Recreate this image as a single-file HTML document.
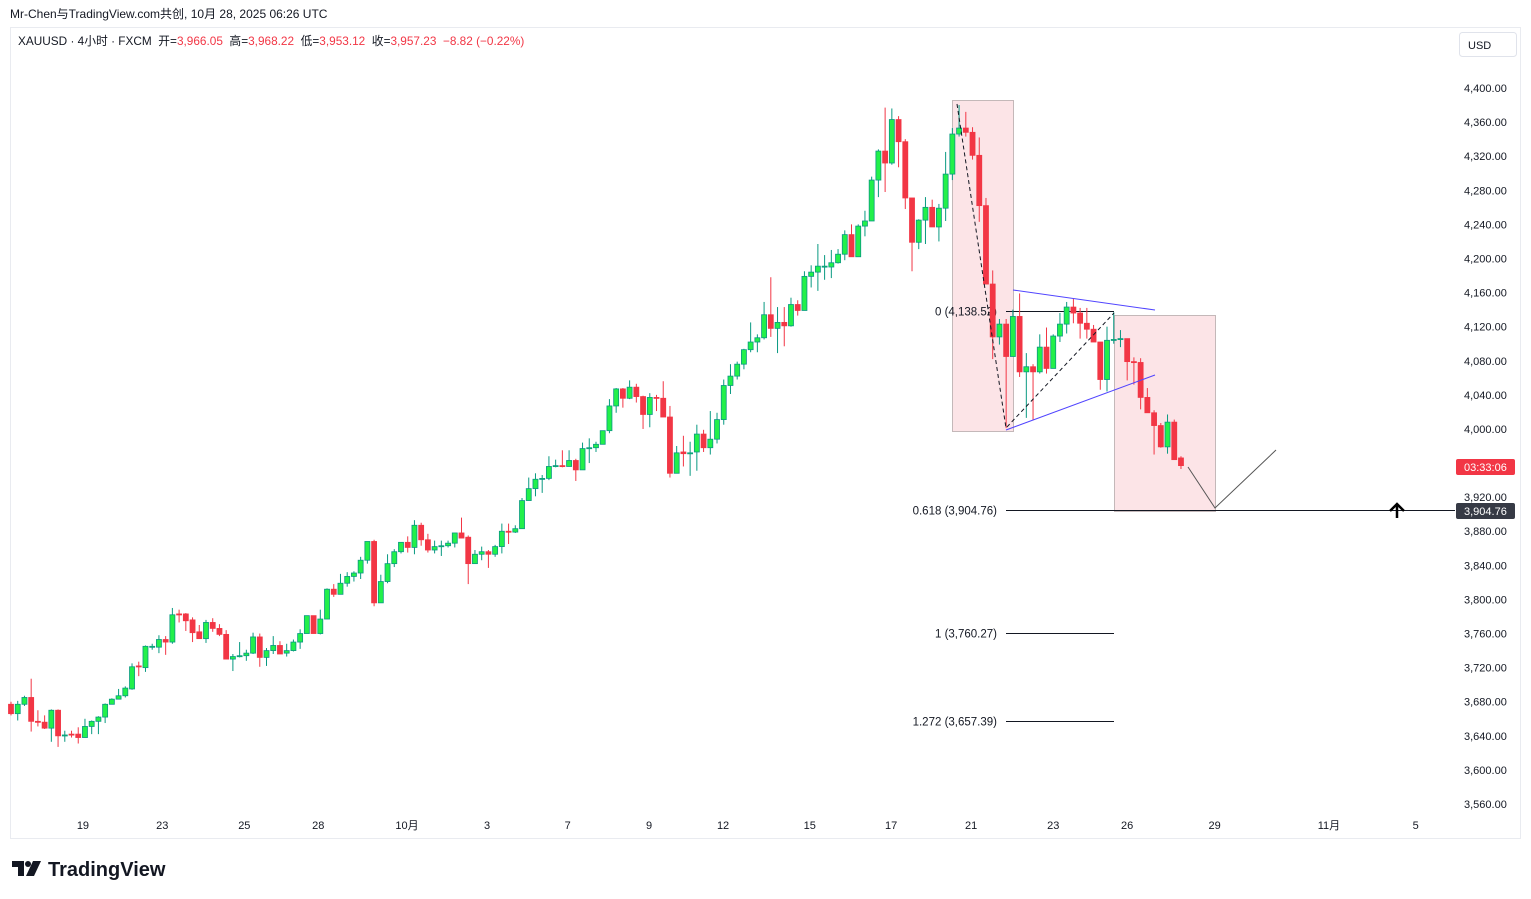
<!DOCTYPE html>
<html><head><meta charset="utf-8">
<style>
body{margin:0;background:#fff;width:1531px;height:899px;overflow:hidden;font-family:"Liberation Sans","Noto Sans CJK SC",sans-serif;}
svg{position:absolute;left:0;top:0}
</style></head>
<body>
<svg id="chart" width="1531" height="899" xmlns="http://www.w3.org/2000/svg"></svg>
<script>
const opens=[3677,3666,3677,3685,3657,3656,3649,3670,3641,3642,3642,3638,3651,3657,3662,3677,3683,3687,3695,3722,3720,3745,3744,3753,3750,3783,3783,3776,3762,3754,3773,3766,3759,3730,3734,3734,3737,3756,3732,3740,3746,3737,3740,3750,3760,3781,3760,3777,3812,3806,3819,3827,3831,3846,3868,3796,3821,3842,3856,3867,3861,3887,3870,3858,3863,3863,3866,3878,3873,3842,3853,3856,3853,3862,3880,3879,3883,3916,3930,3942,3942,3957,3957,3956,3963,3952,3978,3978,3982,3998,4027,4047,4036,4049,4038,4017,4037,4036,4014,3948,3973,3972,3973,3994,3978,3988,4011,4051,4062,4076,4093,4102,4107,4134,4118,4125,4121,4146,4139,4179,4184,4191,4190,4195,4205,4228,4202,4238,4244,4292,4326,4312,4363,4337,4271,4219,4245,4260,4237,4259,4299,4346,4353,4348,4321,4262,4170,4108,4123,4085,4132,4067,4073,4067,4096,4071,4109,4123,4143,4136,4124,4117,4102,4058,4104,4105,4106,4079,4078,4037,4019,4004,3979,4008,3966];
const highs=[3680,3681,3687,3707,3670,3664,3671,3671,3646,3646,3650,3660,3658,3663,3678,3684,3695,3698,3725,3727,3746,3748,3758,3757,3790,3788,3784,3779,3770,3776,3778,3771,3764,3736,3750,3741,3761,3760,3743,3757,3751,3748,3753,3765,3781,3781,3788,3813,3818,3830,3832,3833,3850,3868,3870,3829,3853,3859,3867,3874,3893,3890,3877,3869,3869,3869,3878,3896,3875,3858,3862,3858,3864,3889,3889,3887,3919,3943,3948,3946,3968,3964,3975,3975,3965,3984,3989,3985,3998,4035,4048,4048,4057,4053,4039,4042,4040,4056,4027,3980,3992,3985,4005,3999,4021,4019,4058,4076,4079,4094,4125,4111,4149,4178,4143,4143,4154,4151,4185,4192,4217,4204,4210,4211,4233,4240,4240,4256,4296,4328,4377,4376,4367,4340,4271,4246,4272,4269,4264,4325,4353,4380,4372,4354,4342,4271,4186,4129,4129,4140,4159,4089,4076,4111,4119,4111,4136,4149,4153,4142,4142,4122,4102,4120,4137,4116,4106,4084,4083,4048,4022,4007,4017,4011,3968];
const lows=[3664,3658,3675,3645,3651,3648,3633,3627,3633,3638,3631,3638,3642,3642,3655,3677,3683,3685,3694,3710,3715,3741,3737,3735,3748,3773,3763,3750,3754,3749,3762,3757,3730,3716,3732,3728,3736,3721,3722,3736,3736,3733,3739,3742,3760,3760,3759,3777,3803,3806,3815,3821,3824,3842,3792,3796,3819,3838,3854,3855,3853,3863,3855,3854,3851,3861,3861,3872,3818,3842,3846,3837,3850,3854,3865,3878,3883,3916,3921,3925,3940,3955,3955,3956,3939,3952,3960,3973,3982,3995,4019,4025,4035,4031,4000,4002,4021,4014,3943,3948,3956,3945,3951,3973,3970,3983,4005,4041,4058,4070,4090,4090,4105,4108,4089,4097,4120,4133,4139,4166,4162,4175,4177,4194,4198,4202,4202,4226,4244,4272,4278,4310,4307,4258,4185,4211,4217,4237,4220,4244,4292,4343,4343,4316,4243,4170,4082,4099,4001,4085,4061,4013,4010,4065,4065,4071,4102,4112,4124,4106,4106,4102,4046,4044,4100,4096,4057,4052,4023,4019,3970,3978,3971,3964,3953];
const closes=[3666,3677,3685,3657,3656,3649,3670,3640,3641,3641,3638,3651,3657,3662,3677,3683,3687,3696,3721,3721,3745,3745,3753,3750,3782,3782,3775,3761,3754,3773,3766,3759,3730,3733,3734,3737,3756,3732,3740,3746,3736,3740,3750,3760,3781,3760,3777,3812,3806,3819,3827,3831,3846,3868,3796,3821,3842,3856,3867,3861,3887,3870,3858,3862,3863,3866,3878,3872,3842,3853,3856,3853,3862,3880,3879,3883,3916,3930,3941,3942,3956,3957,3956,3963,3952,3977,3978,3982,3998,4027,4047,4036,4049,4038,4017,4037,4036,4014,3948,3972,3971,3972,3994,3978,3988,4011,4051,4062,4076,4093,4102,4107,4134,4118,4125,4121,4146,4139,4179,4184,4191,4191,4195,4205,4228,4202,4238,4244,4292,4326,4312,4363,4337,4271,4219,4245,4260,4237,4259,4299,4346,4353,4348,4321,4262,4170,4108,4123,4085,4132,4067,4073,4067,4096,4071,4109,4123,4143,4136,4124,4117,4102,4058,4104,4105,4106,4079,4078,4037,4019,4004,3979,4008,3964,3957];
const priceTicks=[4400,4360,4320,4280,4240,4200,4160,4120,4080,4040,4000,3920,3880,3840,3800,3760,3720,3680,3640,3600,3560];
const dateLabels=["19","23","25","28","10月","3","7","9","12","15","17","21","23","26","29","11月","5"];
const dateIdx=[10.7,22.5,34.7,45.7,58.9,70.8,82.8,94.9,105.9,118.8,130.9,142.8,155,166,179,196,208.9];
const fibLevels=[4138.52,3904.76,3760.27,3657.39];
const fibNames=["0","0.618","1","1.272"];

const NS="http://www.w3.org/2000/svg";
const svg=document.getElementById('chart');
const X0=11, DX=6.724;
function xs(i){return X0+i*DX;}
function ys(p){return 88+(4400-p)*0.8524;}
function mk(tag,attrs,parent){const e=document.createElementNS(NS,tag);for(const k in attrs)e.setAttribute(k,attrs[k]);(parent||svg).appendChild(e);return e;}
function fmt(v){return v.toLocaleString('en-US',{minimumFractionDigits:2,maximumFractionDigits:2});}

let t=mk('text',{x:10,y:18,'font-size':12,fill:'#131722'});t.textContent='Mr-Chen与TradingView.com共创, 10月 28, 2025 06:26 UTC';

let fr=mk('rect',{x:10.5,y:27.5,width:1510,height:811,fill:'none',stroke:'#e9ebf0'});

let lg=mk('text',{x:18,y:45,'font-size':11.8,fill:'#131722'});

lg.innerHTML='XAUUSD · 4小时 · FXCM  开=<tspan fill="#f23645">3,966.05</tspan>  高=<tspan fill="#f23645">3,968.22</tspan>  低=<tspan fill="#f23645">3,953.12</tspan>  收=<tspan fill="#f23645">3,957.23</tspan>  <tspan fill="#f23645">−8.82 (−0.22%)</tspan>';
lg.setAttribute('xml:space','preserve');lg.style.whiteSpace='pre';
let usd=mk('rect',{x:1459.5,y:32.5,width:57,height:24,rx:3,fill:'#fff',stroke:'#e0e3eb'});

t=mk('text',{x:1468,y:49,'font-size':11,fill:'#131722'});t.textContent='USD';

priceTicks.forEach(p=>{const e=mk('text',{x:1464,y:ys(p)+4,'font-size':11,fill:'#131722'});e.textContent=fmt(p);
});
dateLabels.forEach((d,k)=>{const e=mk('text',{x:xs(dateIdx[k]),y:829,'font-size':11,fill:'#131722','text-anchor':'middle'});e.textContent=d;
});

let b1=mk('rect',{x:952.5,y:100.5,width:61,height:331,fill:'#fce4e7',stroke:'#c4b8b9'});

let b2=mk('rect',{x:1114.5,y:315.5,width:101,height:196,fill:'#fce4e7',stroke:'#c4b8b9'});


fibLevels.forEach((f,k)=>{
 const y=Math.round(ys(f))+0.5;
 const l=mk('line',{x1:1006,x2:k==1?1455:1114,y1:y,y2:y,stroke:'#131722','stroke-width':1});
 
 const e=mk('text',{x:997,y:y+4,'font-size':11.5,fill:'#131722','text-anchor':'end'});e.textContent=fibNames[k]+' ('+fmt(f)+')';
 
});

for(let i=0;i<closes.length;i++){
 const up=closes[i]>=opens[i];const x=xs(i);
 const w=mk('line',{x1:x,x2:x,y1:ys(highs[i]),y2:ys(lows[i]),stroke:up?'#089981':'#f23645','stroke-width':1});
 
 const top=ys(Math.max(opens[i],closes[i])),bot=ys(Math.min(opens[i],closes[i]));
 const r=mk('rect',{x:x-2.5,y:top,width:5,height:Math.max(bot-top,1),fill:up?'#22f04a':'#f23645',stroke:up?'#089981':'#f23645','stroke-width':0.8});
 
}

let d1=mk('polyline',{points:'957,104 1006,428 1114,313',fill:'none',stroke:'#131722','stroke-width':1,'stroke-dasharray':'4,3'});

let tl1=mk('line',{x1:1013,y1:290,x2:1155,y2:310,stroke:'#5044ff','stroke-width':1});

let tl2=mk('line',{x1:1006,y1:430,x2:1155,y2:375,stroke:'#5044ff','stroke-width':1});

let pj=mk('polyline',{points:'1188,467 1215,508 1276,450',fill:'none',stroke:'#555','stroke-width':1});

let ar=mk('path',{d:'M1397,518 L1397,505 M1390,511 L1397,504 L1404,511',fill:'none',stroke:'#000','stroke-width':2.5});


let cd=mk('rect',{x:1456,y:459,width:59,height:16,rx:2,fill:'#f23645'});

t=mk('text',{x:1464,y:471,'font-size':11,fill:'#fff'});t.textContent='03:33:06';
let pl=mk('rect',{x:1456,y:503,width:59,height:16,rx:2,fill:'#363a45'});

t=mk('text',{x:1464,y:515,'font-size':11,fill:'#fff'});t.textContent='3,904.76';

let lgG=mk('g',{});
mk('path',{d:'M12,861 H24 V876 H18 V867 H12 Z',fill:'#131722'},lgG);
mk('circle',{cx:28,cy:864,r:3,fill:'#131722'},lgG);
mk('path',{d:'M33,861 H41 L34,876 H26 Z',fill:'#131722'},lgG);
t=mk('text',{x:48,y:876,'font-size':20,'font-weight':'bold',fill:'#131722'},lgG);t.textContent='TradingView';
</script>
</body></html>
